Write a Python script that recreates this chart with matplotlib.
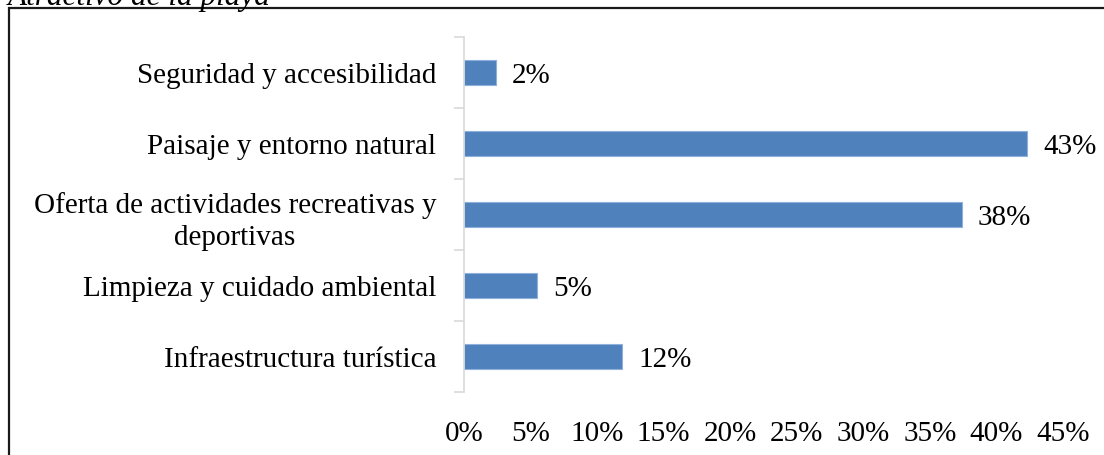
import matplotlib
matplotlib.use("Agg")
import matplotlib.pyplot as plt
from matplotlib.patches import Rectangle

categories = [
    "Infraestructura turística",
    "Limpieza y cuidado ambiental",
    "Oferta de actividades recreativas y\ndeportivas",
    "Paisaje y entorno natural",
    "Seguridad y accesibilidad",
]
values = [11.9, 5.5, 37.4, 42.3, 2.4]
value_labels = ["12%", "5%", "38%", "43%", "2%"]
xticks = [0, 5, 10, 15, 20, 25, 30, 35, 40, 45]
xtick_labels = ["0%", "5%", "10%", "15%", "20%", "25%", "30%", "35%", "40%", "45%"]
title = "Atractivo de la playa"

plt.rcParams["font.family"] = ["Liberation Serif", "DejaVu Serif"]

W, H = 1104, 456
fig = plt.figure(figsize=(W / 100, H / 100), dpi=100)

# axes in pixel coords: left 464, right 1063, top 38, bottom 393
ax = fig.add_axes([464 / W, 1 - 393 / H, (1063 - 464) / W, (393 - 38) / H])

FS = 21
y = list(range(len(categories)))
ax.barh(y, values, height=0.36, color="#4F81BD", edgecolor="#8EB0DB", linewidth=0.8)
for yi, v, lab in zip(y, values, value_labels):
    ax.annotate(lab, (v, yi), xytext=(16, -3), textcoords="offset pixels",
                va="center", ha="left", fontsize=FS, color="black")

ax.set_ylim(-0.5, len(categories) - 0.5)
ax.set_xlim(0, 45)
ax.set_yticks([i - 0.5 for i in range(len(categories) + 1)], minor=False)
ax.set_yticklabels([])
ax.set_yticks(y, minor=True)
ax.set_yticklabels(categories, minor=True, fontsize=FS, multialignment="center",
                   linespacing=1.3)
ax.tick_params(axis="y", which="major", length=7, color="#D9D9D9", width=1.2, direction="out")
ax.tick_params(axis="y", which="minor", length=0, pad=20)

ax.set_xticks(xticks)
ax.set_xticklabels(xtick_labels, fontsize=FS)
ax.tick_params(axis="x", length=0, pad=20)

for s in ["top", "right", "bottom"]:
    ax.spines[s].set_visible(False)
ax.spines["left"].set_color("#D9D9D9")
ax.spines["left"].set_linewidth(1.2)

# outer border (extends beyond right and bottom edges)
fig.patches.append(Rectangle((9 / W, -0.1), 1.2, 1 - 9 / H + 0.1, transform=fig.transFigure,
                             fill=False, edgecolor="#1a1a1a", linewidth=1.6))

fig.text(8 / W, 1 - 5 / H, title, fontsize=22.5, style="italic", ha="left", va="baseline")

fig.savefig("out.png", dpi=100)
